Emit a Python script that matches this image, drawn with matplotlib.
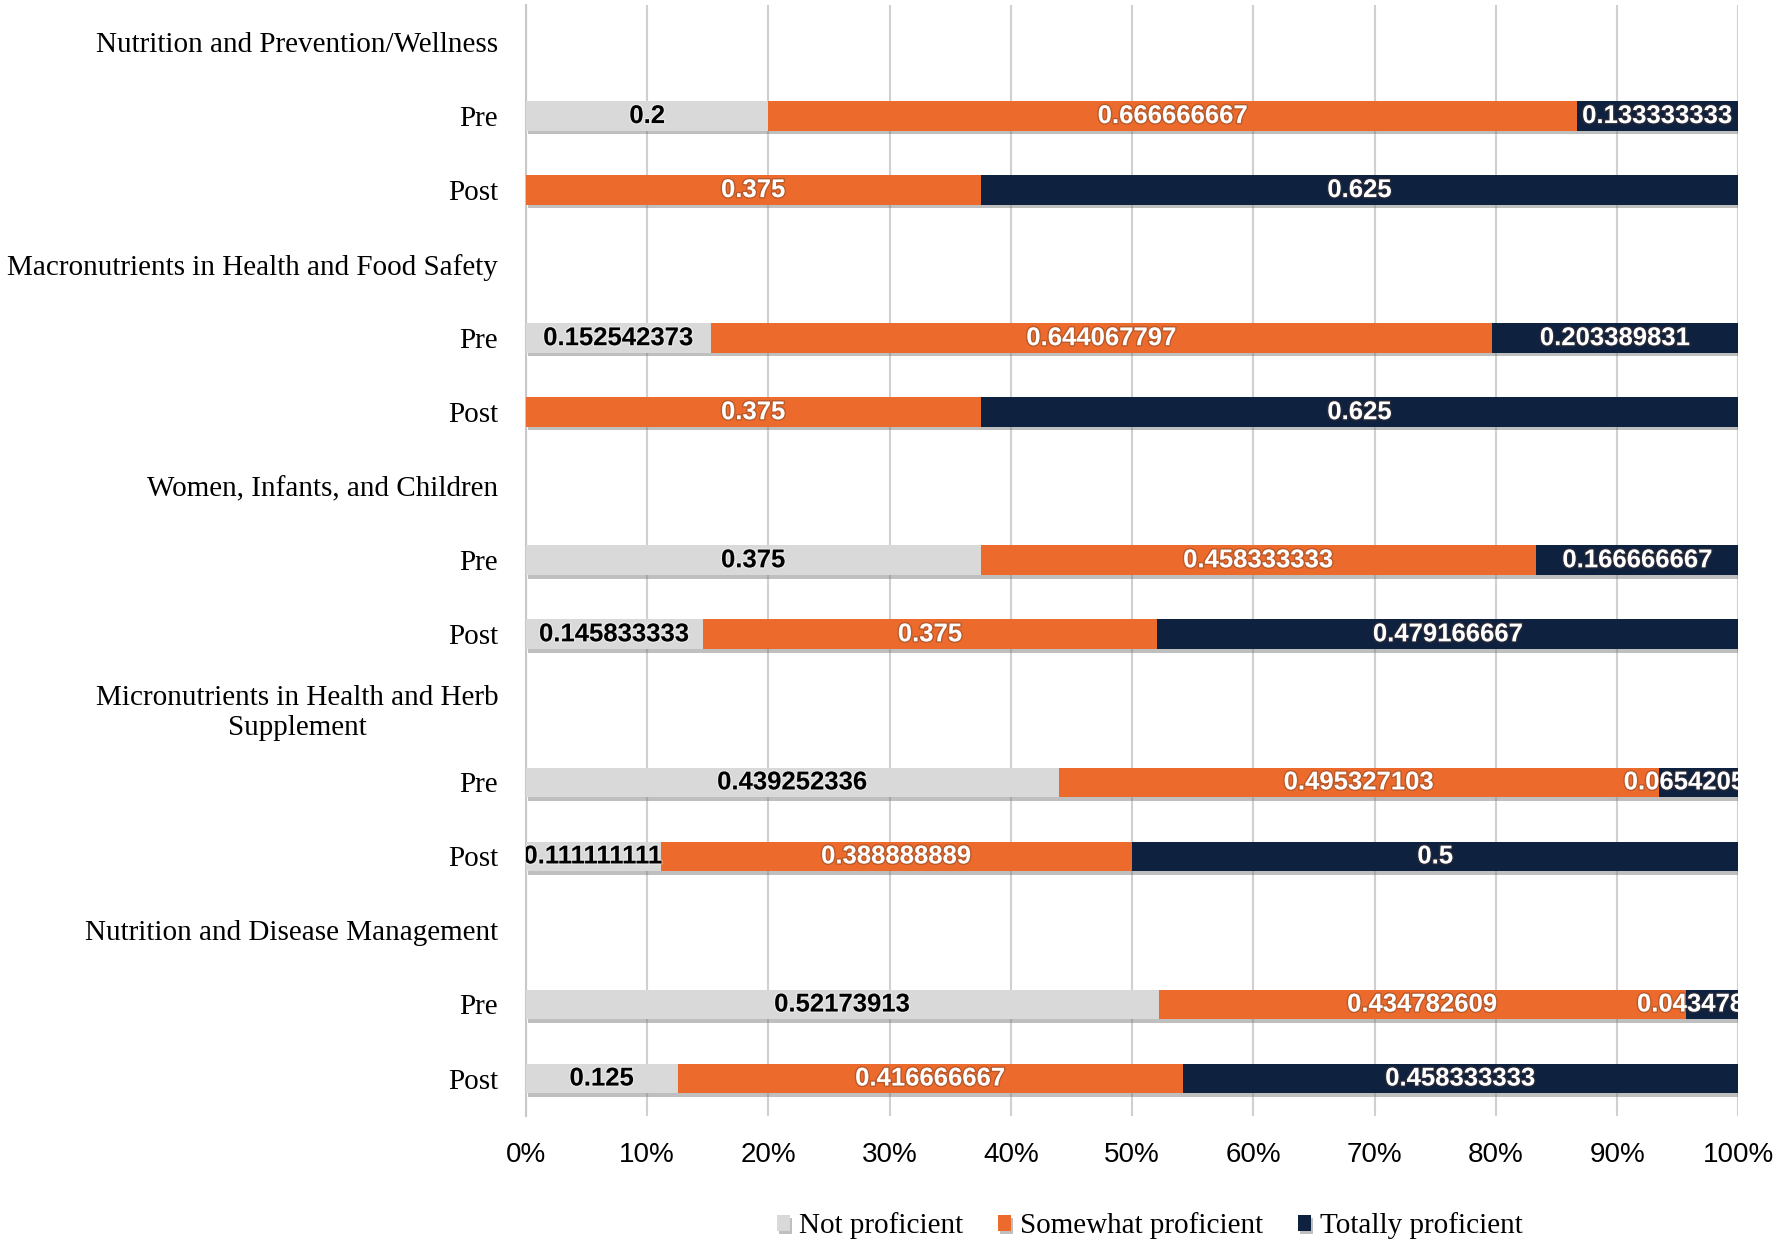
import numpy as np
import matplotlib.pyplot as plt
import matplotlib.patheffects as pe

# categorias (de cima para baixo)
categorias = [
    "Nutrition and Prevention/Wellness", "Pre", "Post",
    "Macronutrients in Health and Food Safety", "Pre", "Post",
    "Women, Infants, and Children", "Pre", "Post",
    "Micronutrients in Health and Herb\nSupplement", "Pre", "Post",
    "Nutrition and Disease Management", "Pre", "Post",
]
nao_proficiente = [0, 0.2, 0,
                   0, 0.152542373, 0,
                   0, 0.375, 0.145833333,
                   0, 0.439252336, 0.111111111,
                   0, 0.52173913, 0.125]
algo_proficiente = [0, 0.666666667, 0.375,
                    0, 0.644067797, 0.375,
                    0, 0.458333333, 0.375,
                    0, 0.495327103, 0.388888889,
                    0, 0.434782609, 0.416666667]
totalmente_proficiente = [0, 0.133333333, 0.625,
                          0, 0.203389831, 0.625,
                          0, 0.166666667, 0.479166667,
                          0, 0.065420561, 0.5,
                          0, 0.043478261, 0.458333333]
series_nomes = ["Not proficient", "Somewhat proficient", "Totally proficient"]
xticks = np.arange(0, 1.01, 0.1)

cores = ["#D9D9D9", "#EC6A2B", "#0E2240"]
cores_texto = ["black", "white", "white"]
serif = ["Liberation Serif", "DejaVu Serif"]
sans = ["Liberation Sans", "DejaVu Sans"]
estreita = ["Liberation Sans Narrow", "Liberation Sans", "DejaVu Sans"]

fig = plt.figure(figsize=(17.83, 12.52), dpi=100)
ax = fig.add_axes([0.295, 0.109, 0.680, 0.887])

y = np.arange(len(categorias))
sombra = [pe.SimplePatchShadow(offset=(1.5, -2.5), shadow_rgbFace="#808080", alpha=0.5), pe.Normal()]
esquerda = np.zeros(len(categorias))
for nome, vals, cor, ct in zip(series_nomes,
                               [nao_proficiente, algo_proficiente, totalmente_proficiente],
                               cores, cores_texto):
    vals = np.array(vals)
    barras = ax.barh(y, vals, left=esquerda, height=0.4, color=cor, label=nome, zorder=3)
    for b in barras:
        b.set_path_effects(sombra)
    for yi, v, l in zip(y, vals, esquerda):
        if v > 0:
            txt = f"{v:.9f}".rstrip("0")
            borda = "white" if ct == "black" else "#5a3a2a"
            ax.text(l + v / 2, yi, txt, ha="center", va="center", color=ct,
                    fontsize=18.5, fontweight="bold", family=sans, zorder=5, clip_on=True,
                    path_effects=[pe.withStroke(linewidth=2, foreground=borda, alpha=0.35)])
    esquerda = esquerda + vals

ax.set_xlim(0, 1)
ax.set_ylim(len(categorias) - 0.5, -0.5)
ax.set_yticks(y)
ax.set_yticklabels(categorias, family=serif, fontsize=21)
for t in ax.get_yticklabels():
    t.set_multialignment("center")
ax.set_xticks(xticks)
ax.set_xticklabels([f"{int(round(v * 100))}%" for v in xticks], family=estreita, fontsize=20)
ax.tick_params(axis="x", length=0, pad=19)
ax.tick_params(axis="y", length=0, pad=20)
ax.grid(axis="x", color="#D0D0D0", linewidth=1.5, zorder=0)
ax.set_axisbelow(True)
for s in ["top", "right", "bottom"]:
    ax.spines[s].set_visible(False)
ax.spines["left"].set_color("#C8C8C8")
ax.spines["left"].set_linewidth(1.5)

fig.legend(loc="center", bbox_to_anchor=(0.645, 0.021), ncol=3, frameon=False,
           prop={"family": serif, "size": 21}, handlelength=0.45, handleheight=0.45,
           handletextpad=0.3, columnspacing=1.2)

fig.savefig("out.png", dpi=100)
